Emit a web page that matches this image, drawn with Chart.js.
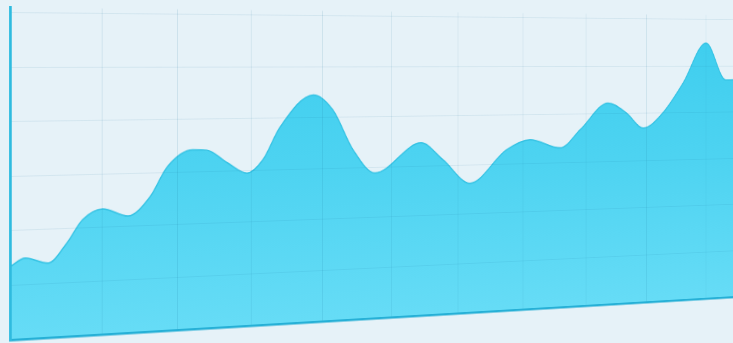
<!DOCTYPE html>
<html>
<head>
<meta charset="utf-8">
<script src="https://cdn.jsdelivr.net/npm/chart.js@4/dist/chart.umd.min.js"></script>
<style>
    html, body {
        margin: 0;
        padding: 0;
        width: 733px;
        height: 343px;
        overflow: hidden;
        background: #e6f2f8;
    }
    #wrap {
        position: relative;
        width: 733px;
        height: 343px;
        overflow: hidden;
    }
    /* the chart is seen in perspective: right side is further away */
    #areaChart {
        position: absolute;
        left: 0;
        top: 0;
        transform-origin: 10px 59px;
        transform: perspective(2728px) rotateY(30deg);
    }
</style>
</head>
<body>
<div id="wrap">
    <canvas id="areaChart" width="1010" height="343"></canvas>
</div>
<script>
// Data (x in grid columns, y in grid rows)
const xValues = [-1.17, -0.98, -0.69, -0.45, -0.25, 0.01, 0.34, 0.63, 0.86, 1.20, 1.39, 1.67, 1.94, 2.16, 2.40, 2.87, 3.15, 3.44, 3.76, 4.44, 4.77, 5.18, 5.74, 6.11, 6.59, 6.91, 7.36, 7.66, 7.94, 8.27, 8.61, 9.00, 9.34, 9.70, 10.10];
const yValues = [1.34, 1.49, 1.38, 1.74, 2.16, 2.35, 2.20, 2.55, 3.11, 3.42, 3.41, 3.16, 2.95, 3.20, 3.83, 4.45, 4.15, 3.36, 2.89, 3.47, 3.12, 2.63, 3.29, 3.49, 3.31, 3.68, 4.23, 4.02, 3.69, 4.01, 4.64, 5.50, 4.70, 4.75, 5.00];

// Grid positions
const xGrid = [0, 1, 2, 3, 4, 5, 6, 7, 8, 9];
const yGrid = [0, 1, 2, 3, 4, 5, 6];

const points = xValues.map((x, i) => ({ x: x, y: yValues[i] }));

function fillGradient(context) {
    const chart = context.chart;
    const area = chart.chartArea;
    if (!area) {
        return '#4fd3f0';
    }
    const g = chart.ctx.createLinearGradient(0, area.top, 0, area.bottom);
    g.addColorStop(0, '#3ccdee');
    g.addColorStop(0.5, '#4dd3f1');
    g.addColorStop(1, '#66dcf6');
    return g;
}

const ctx = document.getElementById('areaChart').getContext('2d');

new Chart(ctx, {
    type: 'line',
    data: {
        datasets: [{
            data: points,
            fill: 'origin',
            backgroundColor: fillGradient,
            borderColor: '#36c3e4',
            borderWidth: 1.5,
            pointRadius: 0,
            cubicInterpolationMode: 'monotone'
        }]
    },
    options: {
        responsive: false,
        animation: false,
        layout: {
            padding: { left: 10, top: 7.5, right: 0, bottom: 3 }
        },
        plugins: {
            legend: { display: false },
            tooltip: { enabled: false }
        },
        scales: {
            x: {
                type: 'linear',
                min: -1.168,
                max: 9.62,
                afterBuildTicks: axis => {
                    axis.ticks = xGrid.map(v => ({ value: v }));
                },
                afterFit: axis => { axis.height = 0; },
                ticks: { display: false },
                grid: {
                    z: 1,
                    color: 'rgba(20, 110, 150, 0.12)',
                    lineWidth: 1,
                    drawTicks: false
                },
                border: { z: 2, color: '#26b0d6', width: 2.5 }
            },
            y: {
                min: 0,
                max: 6.1,
                afterBuildTicks: axis => {
                    axis.ticks = yGrid.map(v => ({ value: v }));
                },
                afterFit: axis => { axis.width = 0; },
                ticks: { display: false },
                grid: {
                    z: 1,
                    color: 'rgba(20, 110, 150, 0.09)',
                    lineWidth: 1,
                    drawTicks: false
                },
                border: { z: 2, color: '#2fbbdf', width: 3 }
            }
        }
    }
});
</script>
</body>
</html>
